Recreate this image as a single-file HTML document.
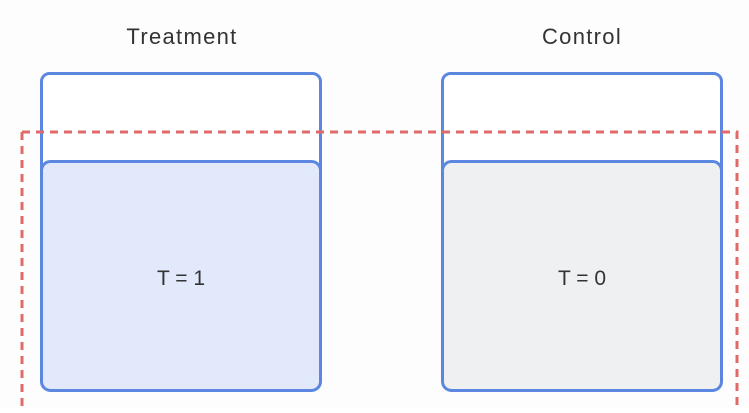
<!DOCTYPE html>
<html><head><style>
body{margin:0;width:749px;height:408px;background:#fff;overflow:hidden;font-family:"Liberation Sans",sans-serif;}
</style></head><body>
<svg width="749" height="408" xmlns="http://www.w3.org/2000/svg">
<rect x="0" y="0" width="749" height="408" fill="#fdfdfd"/>
<text x="182" y="44" font-size="22" letter-spacing="1.3" fill="#333" text-anchor="middle" font-family="Liberation Sans, sans-serif">Treatment</text>
<text x="582" y="44" font-size="22" letter-spacing="1.3" fill="#333" text-anchor="middle" font-family="Liberation Sans, sans-serif">Control</text>
<rect x="41.5" y="73.5" width="279" height="120" rx="8" fill="#fff" stroke="#5b87e0" stroke-width="3"/>
<rect x="442.5" y="73.5" width="279" height="120" rx="8" fill="#fff" stroke="#5b87e0" stroke-width="3"/>
<path d="M22 132 H737 V408 M22 132 V408" fill="none" stroke="#e06a6a" stroke-width="3" stroke-dasharray="8 6"/>
<rect x="41.5" y="161.5" width="279" height="229" rx="9" fill="#e2e9fb" stroke="#5b87e0" stroke-width="3"/>
<rect x="442.5" y="161.5" width="279" height="229" rx="9" fill="#eef0f2" stroke="#5b87e0" stroke-width="3"/>
<text x="181" y="285" font-size="21" fill="#333" text-anchor="middle" font-family="Liberation Sans, sans-serif">T = 1</text>
<text x="582" y="285" font-size="21" fill="#333" text-anchor="middle" font-family="Liberation Sans, sans-serif">T = 0</text>
</svg>
</body></html>
